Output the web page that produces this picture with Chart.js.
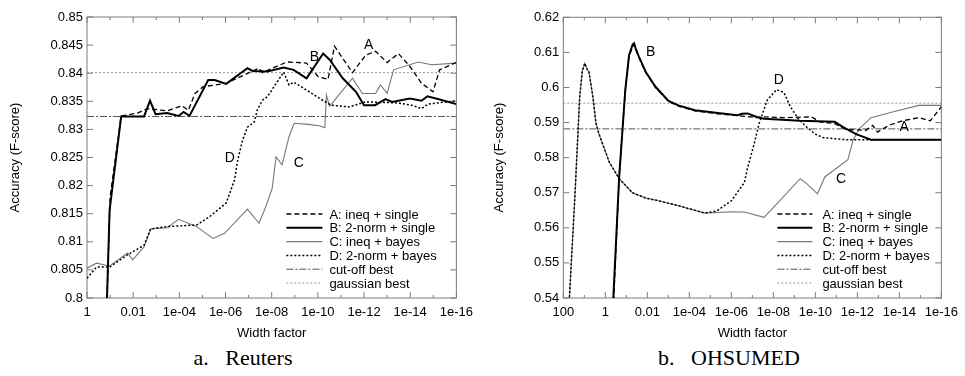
<!DOCTYPE html>
<html>
<head>
<meta charset="utf-8">
<script src="https://cdn.jsdelivr.net/npm/chart.js@4"></script>
<style>
  body { margin: 0; background: #fff; }
  #wrap { position: relative; width: 965px; height: 376px; }
  .panel { position: absolute; top: 0; height: 345px; }
  .caption { position: absolute; top: 345px; width: 240px; text-align: center;
             font: 22px "Liberation Serif", "Times New Roman", serif; white-space: pre; color: #000; }
</style>
</head>
<body>
<div id="wrap">
  <div class="panel" style="left:0;width:480px"><canvas id="reuters" width="480" height="345"></canvas></div>
  <div class="panel" style="left:480px;width:485px"><canvas id="ohsumed" width="485" height="345"></canvas></div>
  <div class="caption" style="left:123px">a.   Reuters</div>
  <div class="caption" style="left:609px">b.   OHSUMED</div>
</div>
<script>
// x values are exponents: width factor = 10^-x
const seriesNames = ['A: ineq + single', 'B: 2-norm + single', 'C: ineq + bayes',
                     'D: 2-norm + bayes', 'cut-off best', 'gaussian best'];

// ---- Reuters ----
const reutersXTicks = ['1', '0.01', '1e-04', '1e-06', '1e-08', '1e-10', '1e-12', '1e-14', '1e-16'];
const reutersYTicks = ['0.8', '0.805', '0.81', '0.815', '0.82', '0.825', '0.83', '0.835', '0.84', '0.845', '0.85'];
const reutersA = [[0.85,0.797],[1.0,0.818],[1.48,0.8324],[2.19,0.8329],[2.62,0.8337],[3.47,0.8333],[4.11,0.8342],
  [4.39,0.8334],[4.68,0.8364],[5.03,0.8376],[6.03,0.8382],[7.45,0.8409],[7.6,0.8401],[8.66,0.8420],[9.51,0.8418],
  [10.01,0.8394],[10.44,0.8389],[10.72,0.8448],[11.5,0.8401],[12.07,0.8432],[12.5,0.8439],[13.0,0.8419],
  [13.49,0.8435],[13.99,0.8412],[14.49,0.8382],[14.99,0.8367],[15.27,0.8406],[16,0.8419]];
const reutersB = [[0.83,0.795],[0.98,0.8157],[1.48,0.8323],[2.47,0.8323],[2.73,0.8351],[2.97,0.8327],[3.47,0.8329],
  [3.97,0.8324],[4.18,0.8331],[4.44,0.8324],[5.25,0.8388],[5.53,0.8388],[6.03,0.8381],[6.95,0.8409],[7.17,0.8404],
  [7.81,0.8403],[8.52,0.8410],[8.95,0.8406],[9.51,0.8391],[10.23,0.8435],[10.51,0.8424],[11.08,0.8391],
  [11.65,0.8367],[12.0,0.8343],[12.48,0.8343],[12.93,0.8354],[13.21,0.8349],[13.99,0.8355],[14.49,0.8351],
  [14.75,0.8359],[15.2,0.8354],[16,0.8345]];
const reutersC = [[0,0.8053],[0.41,0.8062],[0.98,0.8057],[1.76,0.8080],[1.98,0.8068],[2.47,0.8091],[2.76,0.8123],
  [3.47,0.8125],[3.97,0.8140],[4.75,0.8127],[5.46,0.8106],[5.96,0.8115],[6.95,0.8158],[7.45,0.8133],[7.74,0.8162],
  [8.02,0.8195],[8.19,0.8251],[8.45,0.8237],[8.75,0.8287],[8.97,0.8311],[9.6,0.8309],[10.1,0.8306],[10.3,0.8303],
  [10.37,0.8361],[10.51,0.8341],[11.5,0.8391],[11.93,0.8364],[12.5,0.8364],[12.71,0.8379],[13.0,0.8364],
  [13.28,0.8406],[14.35,0.8420],[14.92,0.8415],[16,0.8418]];
const reutersD = [[0,0.8035],[0.41,0.8055],[0.98,0.8055],[1.76,0.8077],[2.47,0.8094],[2.76,0.8123],[3.47,0.8127],
  [4.75,0.8130],[5.32,0.8145],[6.03,0.8169],[6.39,0.8210],[6.53,0.8246],[6.74,0.8281],[6.95,0.8304],[7.24,0.8313],
  [7.38,0.8335],[7.6,0.8352],[7.81,0.8358],[8.52,0.8402],[8.75,0.8379],[8.95,0.8384],[9.51,0.8370],[10.08,0.8355],
  [10.58,0.8343],[11.36,0.8340],[12.07,0.8349],[12.93,0.8348],[13.49,0.8347],[14.06,0.8343],[14.49,0.8337],
  [14.77,0.8345],[16,0.8351]];
const reutersCutoff = 0.8323;
const reutersGauss = 0.8401;
const reutersTags = [['A',12.2,0.8450],['B',9.85,0.8429],['C',9.17,0.8240],['D',6.19,0.8249]];

// ---- OHSUMED ----
const ohsumedXTicks = ['100', '1', '0.01', '1e-04', '1e-06', '1e-08', '1e-10', '1e-12', '1e-14', '1e-16'];
const ohsumedYTicks = ['0.54', '0.55', '0.56', '0.57', '0.58', '0.59', '0.6', '0.61', '0.62'];
const ohsumedA = [[0.33,0.530],[0.66,0.5745],[0.95,0.5990],[1.13,0.6090],[1.37,0.6124],[1.6,0.6085],[1.92,0.6043],
  [2.39,0.6000],[3.01,0.5960],[3.48,0.5947],[4.27,0.5933],[5.36,0.5925],[6.3,0.5920],[7.21,0.5914],[7.56,0.5916],
  [8.5,0.5914],[9.83,0.5916],[10.2,0.5902],[10.92,0.5897],[11.47,0.5880],[12.41,0.5878],[12.73,0.5892],
  [12.96,0.5873],[13.5,0.5892],[14.14,0.5905],[14.92,0.5914],[15.47,0.5905],[16,0.5945]];
const ohsumedB = [[0.3,0.530],[0.66,0.5745],[0.95,0.5992],[1.13,0.6092],[1.3,0.6122],[1.37,0.6126],[1.45,0.6110],
  [1.6,0.6088],[1.92,0.6045],[2.39,0.6002],[3.01,0.5962],[3.48,0.5949],[4.27,0.5935],[5.36,0.5927],[6.3,0.5921],
  [6.5,0.5925],[6.77,0.5926],[7.21,0.5916],[7.56,0.5911],[9.28,0.5905],[10.92,0.5902],[11.32,0.5887],
  [11.94,0.5867],[12.65,0.5851],[16,0.5851]];
const ohsumedC = [[-1.8,0.530],[-1.45,0.5687],[-1.22,0.5973],[-1.1,0.6045],[-0.98,0.6069],[-0.85,0.6050],
  [-0.78,0.6045],[-0.59,0.5973],[-0.45,0.5900],[-0.31,0.5869],[0.19,0.5787],[0.66,0.5740],[1.29,0.5700],
  [1.92,0.5685],[2.54,0.5677],[3.48,0.5663],[4.74,0.5642],[5.99,0.5646],[6.62,0.5645],[7.56,0.5630],[8.03,0.5660],
  [9.28,0.5740],[9.59,0.5726],[10.1,0.5697],[10.45,0.5745],[11.55,0.5794],[11.79,0.5849],[12.1,0.5883],
  [12.65,0.5914],[13.67,0.5930],[14.92,0.5949],[16,0.5949]];
const ohsumedD = [[-1.8,0.530],[-1.45,0.5687],[-1.22,0.5973],[-1.1,0.6045],[-0.98,0.6069],[-0.85,0.6050],
  [-0.78,0.6045],[-0.59,0.5973],[-0.45,0.5900],[-0.31,0.5869],[0.19,0.5787],[0.66,0.5740],[1.29,0.5700],
  [1.92,0.5685],[2.54,0.5677],[3.48,0.5663],[4.74,0.5642],[5.3,0.5648],[6.0,0.5677],[6.62,0.5729],[6.77,0.5770],
  [7.09,0.5840],[7.32,0.5897],[7.71,0.5964],[8.15,0.5994],[8.5,0.5986],[8.81,0.5945],[9.2,0.5910],[9.59,0.5887],
  [10.0,0.5867],[10.38,0.5857],[11.47,0.5851],[16,0.5851]];
const ohsumedCutoff = 0.5882;
const ohsumedGauss = 0.5955;
const ohsumedTags = [['A',14.23,0.5886],['B',2.16,0.6102],['C',11.22,0.5738],['D',8.26,0.6022]];

// line looks for A, B, C, D, cut-off, gaussian (order: lower is drawn on top)
const looks = [
  { color: '#000', width: 1.3, dash: [5, 3], order: 1 },
  { color: '#000', width: 2, dash: [], order: 0 },
  { color: '#777', width: 1.1, dash: [], order: 3 },
  { color: '#000', width: 1.5, dash: [2, 2], order: 2 },
  { color: '#555', width: 1, dash: [7, 2, 2, 2], order: 10 },
  { color: '#999', width: 1, dash: [2, 2], order: 10 }
];

const SANS = '"Liberation Sans", Arial, sans-serif';

const frame = {
  id: 'frame',
  beforeDatasetsDraw(chart) {
    const { ctx, chartArea: a, scales: { x, y } } = chart;
    ctx.save();
    ctx.strokeStyle = '#7a7a7a';
    ctx.lineWidth = 1;
    ctx.setLineDash([]);
    ctx.strokeRect(a.left, a.top, a.right - a.left, a.bottom - a.top);
    ctx.beginPath();
    for (let v = x.min; v <= x.max; v++) {
      const px = x.getPixelForValue(v);
      const len = (v - x.min) % 2 === 0 ? 6 : 3;
      ctx.moveTo(px, a.bottom); ctx.lineTo(px, a.bottom - len);
      ctx.moveTo(px, a.top); ctx.lineTo(px, a.top + len);
    }
    y.ticks.forEach(t => {
      const py = y.getPixelForValue(t.value);
      ctx.moveTo(a.left, py); ctx.lineTo(a.left + 6, py);
      ctx.moveTo(a.right, py); ctx.lineTo(a.right - 6, py);
    });
    ctx.stroke();
    ctx.restore();
  }
};

const notes = {
  id: 'notes',
  afterDraw(chart, args, opts) {
    const { ctx, chartArea: a, scales: { x, y } } = chart;
    ctx.save();
    ctx.fillStyle = '#000';
    ctx.font = '14px ' + SANS;
    ctx.textAlign = 'center';
    ctx.textBaseline = 'middle';
    opts.tags.forEach(([t, xv, yv]) => ctx.fillText(t, x.getPixelForValue(xv), y.getPixelForValue(yv)));

    // legend, no box
    ctx.font = '13px ' + SANS;
    ctx.textAlign = 'left';
    seriesNames.forEach((name, i) => {
      const ry = a.bottom - 15 - (seriesNames.length - 1 - i) * 13.8;
      const lk = looks[i];
      ctx.strokeStyle = lk.color;
      ctx.lineWidth = lk.width;
      ctx.setLineDash(lk.dash);
      ctx.beginPath();
      ctx.moveTo(a.right - opts.lineFrom, ry);
      ctx.lineTo(a.right - opts.lineTo, ry);
      ctx.stroke();
      ctx.fillText(name, a.right - opts.textAt, ry + 1);
    });
    ctx.restore();
  }
};

function lineSet(points, i) {
  const lk = looks[i];
  return {
    label: seriesNames[i],
    data: points.map(p => ({ x: p[0], y: p[1] })),
    borderColor: lk.color,
    borderWidth: lk.width,
    borderDash: lk.dash,
    order: lk.order,
    pointRadius: 0,
    tension: 0,
    fill: false
  };
}

function build(id, p) {
  const datasets = [
    lineSet(p.series[0], 0), lineSet(p.series[1], 1), lineSet(p.series[2], 2), lineSet(p.series[3], 3),
    lineSet([[p.xMin, p.cutoff], [p.xMax, p.cutoff]], 4),
    lineSet([[p.xMin, p.gauss], [p.xMax, p.gauss]], 5)
  ];
  return new Chart(document.getElementById(id), {
    type: 'line',
    data: { datasets },
    options: {
      responsive: false,
      animation: false,
      events: [],
      layout: { padding: { left: 0, right: p.padRight, top: p.padTop, bottom: 0 } },
      plugins: { legend: { display: false }, tooltip: { enabled: false }, notes: p.notes },
      scales: {
        x: {
          type: 'linear', min: p.xMin, max: p.xMax,
          grid: { display: false, drawTicks: false }, border: { display: false },
          ticks: { stepSize: 2, autoSkip: false, maxRotation: 0, padding: 7, color: '#000',
                   font: { family: SANS, size: 13 }, callback: (v, i) => p.xTicks[i] },
          title: { display: true, text: 'Width factor', color: '#000', font: { family: SANS, size: 13 },
                   padding: { top: 4, bottom: 4 } },
          afterFit: s => { s.height = 47; }
        },
        y: {
          type: 'linear', min: p.yMin, max: p.yMax,
          grid: { display: false, drawTicks: false }, border: { display: false },
          ticks: { stepSize: p.yStep, autoSkip: false, padding: 4, color: '#000',
                   font: { family: SANS, size: 13 }, callback: (v, i) => p.yTicks[i] },
          title: { display: true, text: 'Accuracy (F-score)', color: '#000', font: { family: SANS, size: 13 },
                   padding: { top: p.titlePad, bottom: 0 } },
          afterFit: s => { s.width = p.yWidth; }
        }
      }
    },
    plugins: [frame, notes]
  });
}

build('reuters', {
  series: [reutersA, reutersB, reutersC, reutersD], cutoff: reutersCutoff, gauss: reutersGauss,
  xMin: 0, xMax: 16, yMin: 0.8, yMax: 0.85, yStep: 0.005,
  xTicks: reutersXTicks, yTicks: reutersYTicks,
  padRight: 18, padTop: 17, yWidth: 87, titlePad: 8,
  notes: { tags: reutersTags, lineFrom: 170, lineTo: 134, textAt: 127 }
});

build('ohsumed', {
  series: [ohsumedA, ohsumedB, ohsumedC, ohsumedD], cutoff: ohsumedCutoff, gauss: ohsumedGauss,
  xMin: -2, xMax: 16, yMin: 0.54, yMax: 0.62, yStep: 0.01,
  xTicks: ohsumedXTicks, yTicks: ohsumedYTicks,
  padRight: 18.3, padTop: 17.3, yWidth: 83.3, titlePad: 12,
  notes: { tags: ohsumedTags, lineFrom: 164, lineTo: 129, textAt: 119 }
});
</script>
</body>
</html>
